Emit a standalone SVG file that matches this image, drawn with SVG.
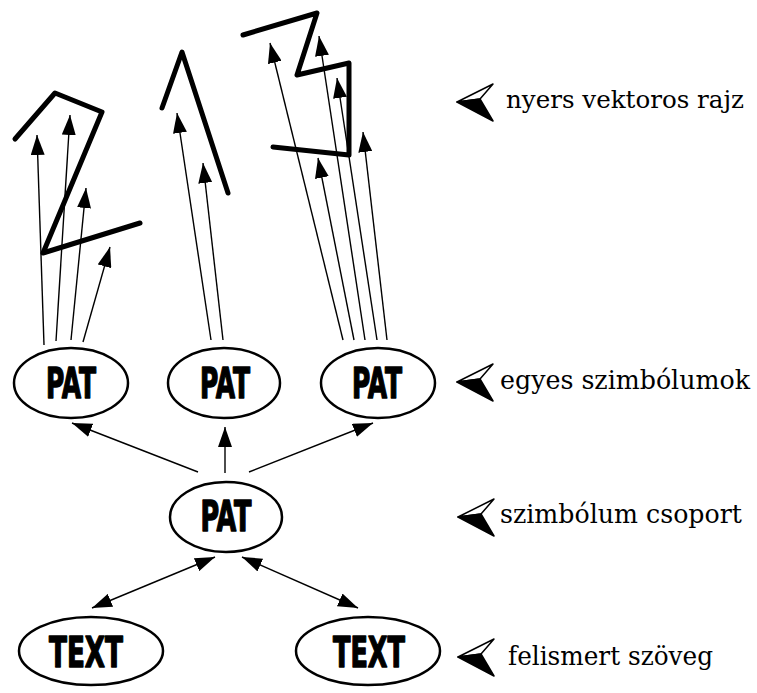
<svg xmlns="http://www.w3.org/2000/svg" width="757" height="693" viewBox="0 0 757 693">
<style>
.sk{fill:none;stroke:#000;stroke-width:5;stroke-linecap:round;stroke-linejoin:round}
.ar{fill:none;stroke:#000;stroke-width:1.4;marker-end:url(#ah)}
.dar{fill:none;stroke:#000;stroke-width:1.4;marker-end:url(#ah);marker-start:url(#ah)}
.nd{fill:#fff;stroke:#000;stroke-width:2.5}
.nt{font-weight:bold;font-size:42px;font-stretch:condensed;text-anchor:middle;stroke:#000;stroke-width:1.4;stroke-linejoin:round}
.lb{font-size:26px}
</style>
<defs>
<marker id="ah" viewBox="0 0 20 14" markerWidth="20" markerHeight="14" refX="20" refY="7" orient="auto-start-reverse" markerUnits="userSpaceOnUse">
<path d="M0,0 L20,7 L0,14 z" fill="#000"/>
</marker>
<g id="pt">
<path d="M0,0 L36,-18 L23,-3 Z" fill="#fff" stroke="#000" stroke-width="1.5" stroke-linejoin="round"/>
<path d="M0,0 L23,-3 L36,19 Z" fill="#000" stroke="#000" stroke-width="1.5" stroke-linejoin="round"/>
</g>
</defs>
<rect width="757" height="693" fill="#fff"/>
<g id="sketch">
<polyline class="sk" points="15,139 55,93 102,112 43,253 140,223"/>
<polyline class="sk" points="162,108 182,52 228,193"/>
<polyline class="sk" points="243,35 317,13 297,75 349,63 349,155 273,147"/>
</g>
<g id="connectors">
<line class="ar" x1="44" y1="345" x2="37" y2="135"/>
<line class="ar" x1="56" y1="341" x2="70" y2="115"/>
<line class="ar" x1="71" y1="340" x2="86" y2="188"/>
<line class="ar" x1="83" y1="342" x2="110" y2="247"/>
<line class="ar" x1="211" y1="340" x2="177" y2="113"/>
<line class="ar" x1="223" y1="340" x2="203" y2="163"/>
<line class="ar" x1="343" y1="340" x2="270" y2="43"/>
<line class="ar" x1="354" y1="340" x2="318" y2="158"/>
<line class="ar" x1="365" y1="340" x2="319" y2="36"/>
<line class="ar" x1="377" y1="340" x2="337" y2="78"/>
<line class="ar" x1="387" y1="340" x2="363" y2="132"/>
<line class="ar" x1="198" y1="472" x2="72" y2="423"/>
<line class="ar" x1="225" y1="473" x2="225" y2="427"/>
<line class="ar" x1="249" y1="472" x2="373" y2="423"/>
<line class="dar" x1="92" y1="608" x2="215" y2="557"/>
<line class="dar" x1="242" y1="557" x2="358" y2="608"/>
</g>
<g font-family="DejaVu Sans, sans-serif">
<g id="pat1"><ellipse class="nd" cx="71" cy="383" rx="57" ry="35"/><text class="nt" x="71" y="398" textLength="50" lengthAdjust="spacingAndGlyphs">PAT</text></g>
<g id="pat2"><ellipse class="nd" cx="224" cy="383" rx="56" ry="35"/><text class="nt" x="225" y="398" textLength="50" lengthAdjust="spacingAndGlyphs">PAT</text></g>
<g id="pat3"><ellipse class="nd" cx="378" cy="383" rx="57" ry="35"/><text class="nt" x="377" y="398" textLength="50" lengthAdjust="spacingAndGlyphs">PAT</text></g>
<g id="patg"><ellipse class="nd" cx="226" cy="517" rx="56" ry="35"/><text class="nt" x="226" y="531" textLength="51" lengthAdjust="spacingAndGlyphs">PAT</text></g>
<g id="text1"><ellipse class="nd" cx="91" cy="651" rx="72" ry="34"/><text class="nt" x="86" y="667" textLength="74" lengthAdjust="spacingAndGlyphs">TEXT</text></g>
<g id="text2"><ellipse class="nd" cx="368" cy="651" rx="72" ry="34"/><text class="nt" x="369" y="667" textLength="72" lengthAdjust="spacingAndGlyphs">TEXT</text></g>
</g>
<g id="labels" font-family="DejaVu Serif, serif">
<use href="#pt" x="457" y="102"/>
<text class="lb" x="506" y="108" style="font-size:24.5px" textLength="238" lengthAdjust="spacingAndGlyphs">nyers vektoros rajz</text>
<use href="#pt" x="457" y="382"/>
<text class="lb" x="500" y="389" textLength="250" lengthAdjust="spacingAndGlyphs">egyes szimbólumok</text>
<use href="#pt" x="458" y="517"/>
<text class="lb" x="500" y="523" textLength="242" lengthAdjust="spacingAndGlyphs">szimbólum csoport</text>
<use href="#pt" x="458" y="657"/>
<text class="lb" x="508" y="665" textLength="205" lengthAdjust="spacingAndGlyphs">felismert szöveg</text>
</g>
</svg>
